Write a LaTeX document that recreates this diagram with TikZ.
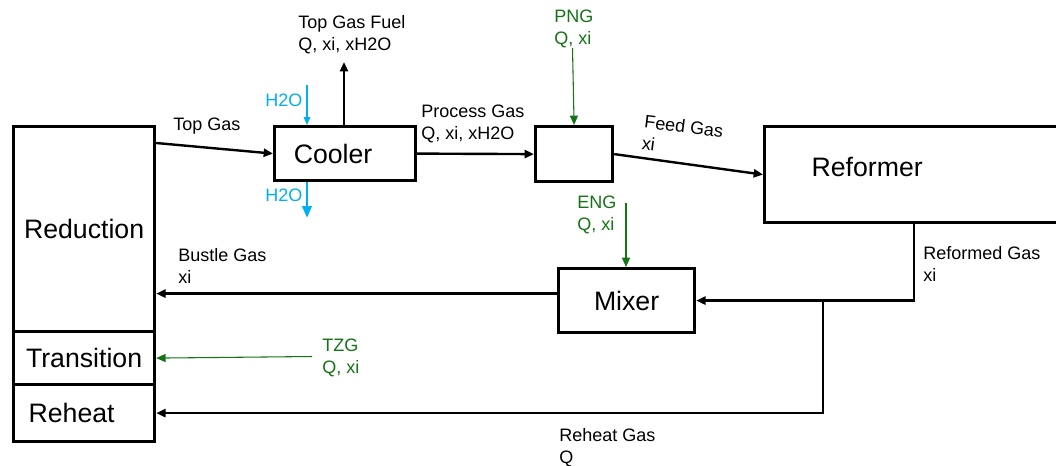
\documentclass[tikz,border=0pt]{standalone}
\usepackage{fontspec}
\setmainfont{Liberation Sans}
\usepackage{xcolor}
\usepackage{tikz}
\usetikzlibrary{arrows.meta,positioning,calc}
\definecolor{gasgreen}{RGB}{20,115,20}
\definecolor{waterblue}{RGB}{0,176,240}
\tikzset{
    unit/.style={rectangle, draw, line width=2.4pt, inner sep=0pt, align=center, anchor=north west, font=\fontsize{20}{24}\selectfont},
    flow/.style={-{Triangle[length=7pt, width=6pt]}, line width=1.8pt},
    feed/.style={-{Triangle[length=7pt, width=6pt]}, gasgreen, line width=0.8pt},
    water/.style={-{Triangle[length=6pt, width=5pt]}, waterblue, line width=0.8pt},
    drain/.style={-{Triangle[length=9pt, width=7pt]}, waterblue, line width=2.2pt},
    tag/.style={anchor=base west, inner sep=0pt, align=left, font=\fontsize{13.5}{16}\selectfont},
}
\begin{document}
\begin{tikzpicture}[x=0.75pt, y=-0.75pt]
    \clip (0,0) rectangle (1056,465);

    \node[unit, minimum width=105.75pt, minimum height=153.75pt] (red) at (12,125) {Reduction};
    \node[unit, minimum width=105.75pt, minimum height=39.75pt] (tran) at (12,330) {Transition};
    \node[unit, minimum width=105.75pt, minimum height=42.75pt, text width=83.25pt, align=left] (reh) at (12,383) {Reheat};
    \node[unit, minimum width=105.75pt, minimum height=40.5pt, text width=77pt, align=left] (cool) at (273,125) {Cooler};
    \node[unit, minimum width=57.75pt, minimum height=41.25pt] (junc) at (534,125) {};
    \node[unit, minimum width=224.25pt, minimum height=72pt, text width=153.75pt, align=left, text depth=11pt] (ref) at (763,125) {Reformer};
    \node[unit, minimum width=102pt, minimum height=48pt] (mix) at (557,267) {Mixer};

    \coordinate (fuel) at (344,62);
    \coordinate (h2oin) at (307,85);
    \coordinate (h2oout) at (307,218);
    \coordinate (png) at (572.5,48);
    \coordinate (eng) at (626,203);
    \coordinate (tzg) at (312,356.5);
    \coordinate (split) at (823,300);

    \draw[flow] ($(red.north east)+(0,18)$) -- (cool.west);
    \draw[flow] (cool.north -| fuel) -- (fuel);
    \draw[water] (h2oin) -- (h2oin |- cool.north);
    \draw[drain] (h2oout |- cool.south) -- (h2oout);
    \draw[flow] (cool.east) -- (junc.west);
    \draw[feed] (png) -- (junc.north);
    \draw[flow] (junc.east) -- (ref.west);
    \draw[flow] (ref.south) |- (mix.east);
    \draw[feed] (eng) -- (eng |- mix.north);
    \draw[flow] ($(mix.west)+(0,-7)$) -- ($(red.east |- mix.west)+(0,-7)$);
    \draw[flow] (split) |- (reh.east);
    \draw[feed] (tzg) -- (tran.east);

    \node[tag] (lTop) at (173,130) {Top Gas};
    \node[tag] (lFuel) at (298,50) {Top Gas Fuel\\Q, xi, xH2O};
    \node[tag, waterblue] (lIn) at (265,106) {H2O};
    \node[tag, waterblue] (lOut) at (265,201) {H2O};
    \node[tag] (lProc) at (421,139) {Process Gas\\Q, xi, xH2O};
    \node[tag, gasgreen] (lPng) at (554,44) {PNG\\Q, xi};
    \node[tag, rotate=-7] (lFeed) at (641,149) {Feed Gas\\xi};
    \node[tag] (lRef) at (923,281) {Reformed Gas\\xi};
    \node[tag, gasgreen] (lEng) at (577,230) {ENG\\Q, xi};
    \node[tag] (lBus) at (178,283) {Bustle Gas\\xi};
    \node[tag, gasgreen] (lTzg) at (322,373) {TZG\\Q, xi};
    \node[tag] (lReh) at (559,463) {Reheat Gas\\Q};
\end{tikzpicture}
\end{document}
